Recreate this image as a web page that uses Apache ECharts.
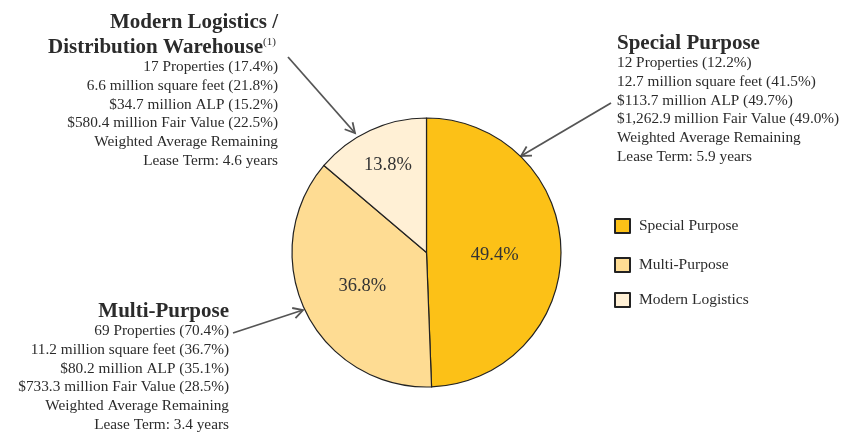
<!DOCTYPE html>
<html>
<head>
<meta charset="utf-8">
<script src="https://cdn.jsdelivr.net/npm/echarts@6/dist/echarts.min.js"></script>
<style>html,body{margin:0;padding:0;background:#fff}#c{width:848px;height:432px}</style>
</head>
<body>
<div id="c"></div>
<script>
var categories = ['Special Purpose', 'Multi-Purpose', 'Modern Logistics'];
var values = [49.4, 36.8, 13.8];
var colors = ['#FCC117', '#FEDC93', '#FFF0D5'];

var specialTitle = 'Special Purpose';
var specialLines = ['12 Properties (12.2%)', '12.7 million square feet (41.5%)', '$113.7 million ALP (49.7%)', '$1,262.9 million Fair Value (49.0%)', 'Weighted Average Remaining', 'Lease Term: 5.9 years'];
var multiTitle = 'Multi-Purpose';
var multiLines = ['69 Properties (70.4%)', '11.2 million square feet (36.7%)', '$80.2 million ALP (35.1%)', '$733.3 million Fair Value (28.5%)', 'Weighted Average Remaining', 'Lease Term: 3.4 years'];
var modernTitle1 = 'Modern Logistics /';
var modernTitle2 = 'Distribution Warehouse';
var modernNote = '(1)';
var modernLines = ['17 Properties (17.4%)', '6.6 million square feet (21.8%)', '$34.7 million ALP (15.2%)', '$580.4 million Fair Value (22.5%)', 'Weighted Average Remaining', 'Lease Term: 4.6 years'];

var FONT = '"Liberation Serif", "Times New Roman", serif';
var TXT = '#2b2b2b';

function textEl(str, x, y, align, size, bold) {
  return {type: 'text', x: x, y: y, silent: true,
    style: {text: str, textAlign: align, textVerticalAlign: 'middle', fill: TXT,
      font: (bold ? 'bold ' : '') + size + 'px ' + FONT}};
}
function block(lines, x, y0, step, align) {
  return lines.map(function (s, i) { return textEl(s, x, y0 + i * step, align, 15.3, false); });
}
function arrow(x1, y1, x2, y2) {
  var a = Math.atan2(y2 - y1, x2 - x1), L = 11, w = 0.5;
  var p1 = [x2 - L * Math.cos(a - w), y2 - L * Math.sin(a - w)];
  var p2 = [x2 - L * Math.cos(a + w), y2 - L * Math.sin(a + w)];
  var st = {stroke: '#555', lineWidth: 1.8, fill: null};
  return [
    {type: 'line', silent: true, shape: {x1: x1, y1: y1, x2: x2, y2: y2}, style: st},
    {type: 'polyline', silent: true, shape: {points: [p1, [x2, y2], p2]}, style: st}
  ];
}

var graphics = [];
graphics.push(textEl(modernTitle1, 278, 23, 'right', 21, true));
graphics.push(textEl(modernTitle2, 263, 48, 'right', 21, true));
graphics.push(textEl(modernNote, 263, 42, 'left', 11, false));
graphics = graphics.concat(block(modernLines, 278, 67, 18.8, 'right'));
graphics.push(textEl(specialTitle, 617, 44, 'left', 21, true));
graphics = graphics.concat(block(specialLines, 617, 63, 18.8, 'left'));
graphics.push(textEl(multiTitle, 229, 312, 'right', 21, true));
graphics = graphics.concat(block(multiLines, 229, 331, 18.8, 'right'));
graphics = graphics.concat(arrow(288, 57, 355, 133));
graphics = graphics.concat(arrow(611, 103, 521, 156));
graphics = graphics.concat(arrow(233, 333, 303, 310));

var legendTops = [218, 257, 292];
var legends = categories.map(function (c, i) {
  return {data: [c], orient: 'vertical', left: 614, top: legendTops[i], padding: 0,
    itemWidth: 15, itemHeight: 14, icon: 'rect', selectedMode: false,
    textStyle: {fontFamily: FONT, fontSize: 15.5, color: TXT, padding: [0, 0, 0, 4]}};
});

var chart = echarts.init(document.getElementById('c'));
chart.setOption({
  animation: false,
  backgroundColor: '#fff',
  legend: legends,
  graphic: graphics,
  series: [{
    type: 'pie',
    center: [426.5, 252.5],
    radius: 134.5,
    startAngle: 90,
    clockwise: true,
    silent: true,
    data: categories.map(function (c, i) {
      return {name: c, value: values[i], itemStyle: {color: colors[i]}};
    }),
    itemStyle: {borderColor: '#222', borderWidth: 1.2},
    label: {show: true, position: 'inside', formatter: function (p) { return p.value.toFixed(1) + '%'; },
      fontFamily: FONT, fontSize: 18.5, color: '#333'},
    labelLayout: function (p) {
      if (p.dataIndex === 2) return {dx: -9, dy: -24};
      if (p.dataIndex === 1) return {dx: -1, dy: 3};
      return {dx: -2, dy: 4};
    },
    labelLine: {show: false}
  }]
});
</script>
</body>
</html>
